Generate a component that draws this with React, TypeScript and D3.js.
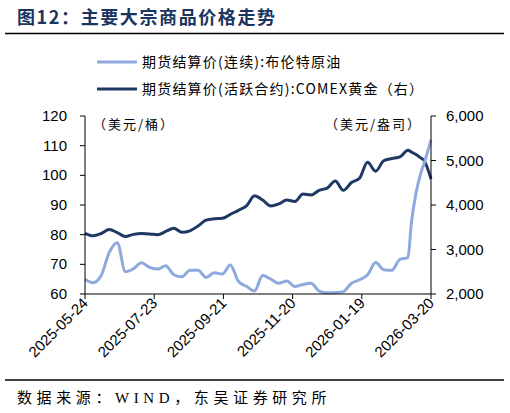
import React from 'react';
import * as d3 from 'd3';

const dates = [
  '2025-05-24', '2025-05-31', '2025-06-07', '2025-06-14', '2025-06-21', '2025-06-28',
  '2025-07-05', '2025-07-12', '2025-07-19', '2025-07-26', '2025-08-02', '2025-08-09',
  '2025-08-16', '2025-08-23', '2025-08-30', '2025-09-06', '2025-09-13', '2025-09-20',
  '2025-09-27', '2025-10-04', '2025-10-11', '2025-10-18', '2025-10-25', '2025-11-01',
  '2025-11-08', '2025-11-15', '2025-11-22', '2025-11-29', '2025-12-06', '2025-12-13',
  '2025-12-20', '2025-12-27', '2026-01-03', '2026-01-10', '2026-01-17', '2026-01-24',
  '2026-01-31', '2026-02-07', '2026-02-14', '2026-02-21', '2026-02-28', '2026-03-03',
  '2026-03-07', '2026-03-11', '2026-03-14', '2026-03-20',
];

const brent = [
  65, 63.8, 66.2, 74, 77.3, 67.5,
  68.5, 70.5, 69, 68.4, 69.5, 66.5,
  65.8, 68, 68, 65.6, 67.2, 66.7,
  69.8, 64.3, 62.6, 61, 66.2, 65,
  63.6, 64.4, 62.5, 63.2, 63.6, 61,
  60.4, 60.5, 60.8, 63.6, 64.8, 66.5,
  70.6, 68.2, 68, 71.7, 72.3, 84,
  94, 100.5, 104, 112,
];

const gold = [
  3364, 3310, 3360, 3450, 3380, 3290,
  3340, 3360, 3350, 3330, 3405, 3480,
  3385, 3420, 3530, 3660, 3690, 3700,
  3790, 3880, 3980, 4210, 4110, 3980,
  4025, 4110, 4080, 4245, 4225, 4330,
  4380, 4540, 4330, 4505, 4600, 4960,
  4760, 4995, 5045, 5080, 5230, 5190,
  5135, 5060, 5000, 4584,
];

const xTickLabels = ['2025-05-24', '2025-07-23', '2025-09-21', '2025-11-20', '2026-01-19', '2026-03-20'];
const leftTicks = [60, 70, 80, 90, 100, 110, 120];
const rightTicks = [2000, 3000, 4000, 5000, 6000];

const seriesNames = ['期货结算价(连续):布伦特原油', '期货结算价(活跃合约):COMEX黄金（右）'];

const W = 510;
const H = 413;
const margin = { top: 116, right: 79, bottom: 119, left: 85 };
const LIGHT = '#8EAADC';
const NAVY = '#1F3864';
const CJK = '"Noto Sans CJK SC", sans-serif';
const NUM = '"Liberation Sans", Arial, sans-serif';

const App: React.FC = () => {
  const parse = d3.timeParse('%Y-%m-%d');
  const x0 = margin.left;
  const x1 = W - margin.right;
  const y0 = H - margin.bottom;
  const y1 = margin.top;

  const x = d3.scaleTime()
    .domain([parse(xTickLabels[0])!, parse(xTickLabels[xTickLabels.length - 1])!])
    .range([x0, x1]);
  const yL = d3.scaleLinear().domain([60, 120]).range([y0, y1]);
  const yR = d3.scaleLinear().domain([2000, 6000]).range([y0, y1]);

  const pts = dates.map((d, i) => ({ t: parse(d)!, b: brent[i], g: gold[i] }));

  const brentLine = d3.line<typeof pts[0]>()
    .x(d => x(d.t))
    .y(d => yL(d.b))
    .curve(d3.curveMonotoneX);
  const goldLine = d3.line<typeof pts[0]>()
    .x(d => x(d.t))
    .y(d => yR(d.g))
    .curve(d3.curveMonotoneX);

  const fmt = d3.format(',');

  return (
    <svg width={W} height={H} style={{ position: 'absolute', left: 0, top: 0, background: '#fff' }}>
      {/* title */}
      <text x={17} y={24} fontFamily={CJK} fontWeight={700} fontSize={18} fill="#1B3560" letterSpacing={1.6}>
        图12：主要大宗商品价格走势
      </text>
      <line x1={5} x2={504} y1={33.5} y2={33.5} stroke="#000" strokeWidth={1.5} />

      {/* legend */}
      {seriesNames.map((name, i) => (
        <g key={name} transform={`translate(97,${62 + i * 27})`}>
          <line x1={0} x2={40} y1={0} y2={0} stroke={i === 0 ? LIGHT : NAVY} strokeWidth={3} />
          <text x={45} y={5} fontFamily={CJK} fontSize={14} letterSpacing={1.2} fill="#000">{name}</text>
        </g>
      ))}

      {/* unit labels */}
      <text x={93} y={129} fontFamily={CJK} fontSize={13} letterSpacing={2} fill="#000">（美元/桶）</text>
      <text x={422} y={129} textAnchor="end" fontFamily={CJK} fontSize={13} letterSpacing={2} fill="#000">（美元/盎司）</text>

      {/* lines */}
      <path d={goldLine(pts) || ''} fill="none" stroke={NAVY} strokeWidth={3} strokeLinejoin="round" />
      <path d={brentLine(pts) || ''} fill="none" stroke={LIGHT} strokeWidth={3} strokeLinejoin="round" />

      {/* left axis */}
      <line x1={x0} x2={x0} y1={y1} y2={y0} stroke="#000" strokeWidth={1} />
      {leftTicks.map(v => (
        <g key={v} transform={`translate(0,${yL(v)})`}>
          <line x1={x0 - 5} x2={x0} stroke="#000" />
          <text x={67} y={5} textAnchor="end" fontFamily={NUM} fontSize={15} fill="#000">{v}</text>
        </g>
      ))}

      {/* right axis */}
      <line x1={x1} x2={x1} y1={y1} y2={y0} stroke="#000" strokeWidth={1} />
      {rightTicks.map(v => (
        <g key={v} transform={`translate(0,${yR(v)})`}>
          <line x1={x1} x2={x1 + 5} stroke="#000" />
          <text x={446} y={5} fontFamily={NUM} fontSize={15} fill="#000">{fmt(v)}</text>
        </g>
      ))}

      {/* bottom axis */}
      <line x1={x0} x2={x1} y1={y0} y2={y0} stroke="#000" strokeWidth={1} />
      {xTickLabels.map(s => {
        const px = x(parse(s)!);
        return (
          <g key={s}>
            <line x1={px} x2={px} y1={y0} y2={y0 + 5} stroke="#000" />
            <text
              transform={`translate(${px + 4},${y0 + 10}) rotate(-45)`}
              textAnchor="end"
              fontFamily={NUM}
              fontSize={15}
              fill="#000"
            >
              {s}
            </text>
          </g>
        );
      })}

      {/* footer */}
      <line x1={5} x2={504} y1={380} y2={380} stroke="#000" strokeWidth={1.5} />
      <text x={17} y={403} fontFamily={CJK} fontSize={15} letterSpacing={4.6} fill="#000">
        数据来源：<tspan fontFamily='"Liberation Serif", serif'>WIND</tspan>，东吴证券研究所
      </text>
    </svg>
  );
};

export default App;
